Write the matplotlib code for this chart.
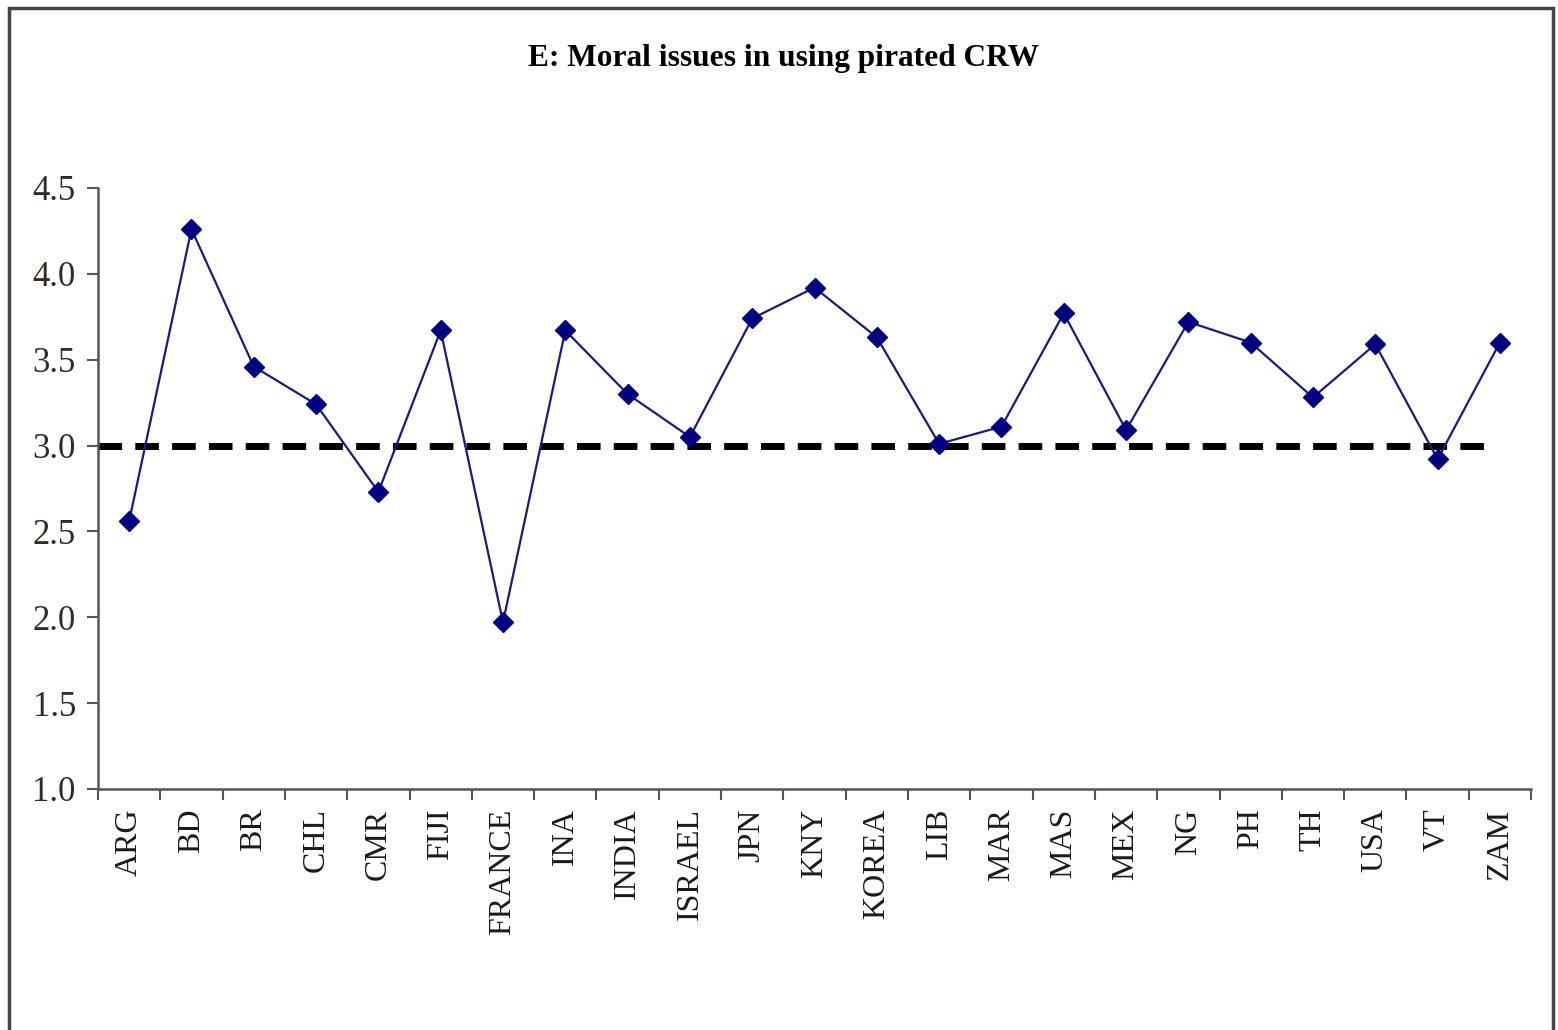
import matplotlib
matplotlib.use('Agg')
import matplotlib.pyplot as plt
from matplotlib.patches import Rectangle
import numpy as np

countries = ['ARG', 'BD', 'BR', 'CHL', 'CMR', 'FIJI', 'FRANCE', 'INA', 'INDIA',
             'ISRAEL', 'JPN', 'KNY', 'KOREA', 'LIB', 'MAR', 'MAS', 'MEX', 'NG',
             'PH', 'TH', 'USA', 'VT', 'ZAM']
scores = [2.56, 4.26, 3.46, 3.24, 2.73, 3.67, 1.97, 3.67, 3.30,
          3.05, 3.74, 3.92, 3.63, 3.01, 3.11, 3.77, 3.09, 3.72,
          3.60, 3.28, 3.59, 2.92, 3.60]
neutral = 3.0

plt.rcParams['font.family'] = ['Liberation Serif', 'DejaVu Serif']

fig = plt.figure(figsize=(15.58, 10.3), dpi=100)
ax = fig.add_axes([0.0629, 0.234, 0.9198, 0.5835])

x = np.arange(len(countries))
ax.hlines(neutral, -0.5, 21.8, colors='black', linestyles=(0, (3.4, 1.9)), linewidth=5, zorder=2)
ax.plot(x, scores, color='#1a1a80', linewidth=1.6, marker='D', markersize=10.5,
        markerfacecolor='#000080', markeredgecolor='#000080', zorder=3)

ax.set_xlim(-0.5, len(countries) - 0.5)
ax.set_ylim(1.0, 4.5)
ax.set_yticks(np.arange(1.0, 4.51, 0.5))
ax.set_yticklabels(['%.1f' % v for v in np.arange(1.0, 4.51, 0.5)], fontsize=25, color='#332a22')
ax.set_xticks(np.arange(-0.5, len(countries), 1.0))
ax.set_xticklabels([])
ax.set_xticks(x, minor=True)
ax.set_xticklabels(countries, minor=True, rotation=90, fontsize=23, color='#1a1a1a')
ax.tick_params(axis='x', which='minor', length=0, pad=14)
ax.tick_params(axis='x', which='major', length=8, width=1.5, color='#555555', direction='out')
ax.tick_params(axis='y', length=8, width=1.5, color='#555555', direction='out', pad=8)

for side in ['top', 'right']:
    ax.spines[side].set_visible(False)
for side in ['left', 'bottom']:
    ax.spines[side].set_color('#555555')
    ax.spines[side].set_linewidth(1.8)

fig.text(0.503, 0.943, 'E: Moral issues in using pirated CRW', ha='center', va='center',
         fontsize=22.6, fontweight='bold')

frame = Rectangle((9 / 1558, -0.05), (1553 - 9) / 1558, 1.05 - 8 / 1030,
                  transform=fig.transFigure, fill=False, edgecolor='#444444', linewidth=2.5)
fig.patches.append(frame)

fig.savefig('out.png', dpi=100)
